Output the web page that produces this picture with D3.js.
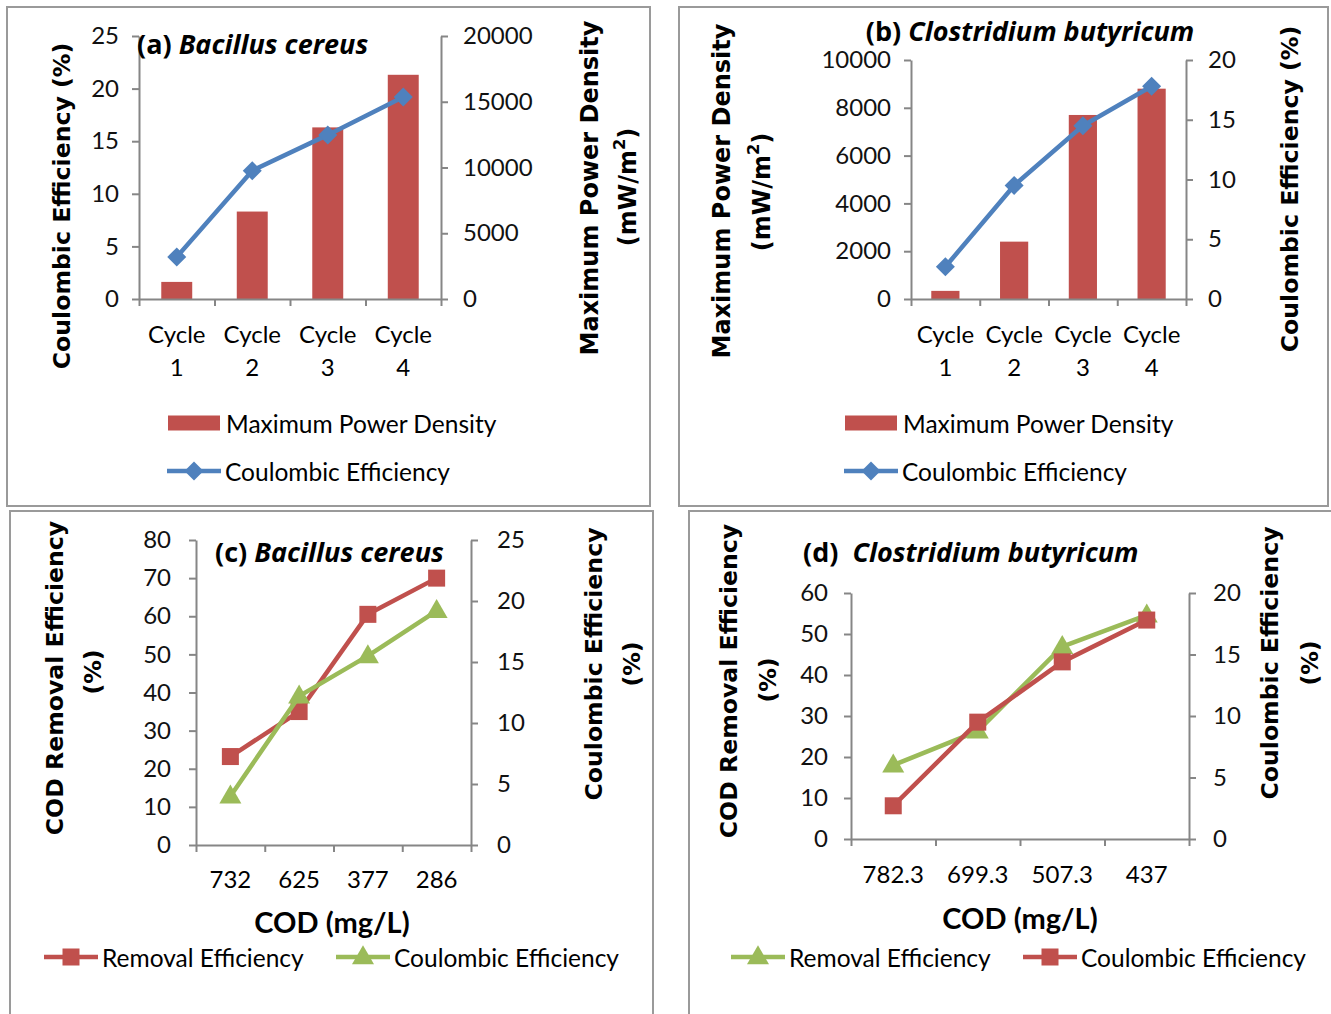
<!DOCTYPE html>
<html>
<head>
<meta charset="utf-8">
<script src="https://cdn.jsdelivr.net/npm/d3@7/dist/d3.min.js"></script>
<style>
html,body{margin:0;padding:0;background:#fff;}
svg{display:block;}
.tick text{font-family:Lato, "Open Sans", sans-serif;font-size:24px;fill:#111;}
</style>
</head>
<body>
<svg id="chart" width="1331" height="1014"></svg>
<script>
// ---------- data ----------
const cycleLabels = ["Cycle 1", "Cycle 2", "Cycle 3", "Cycle 4"];
const mpdBacillus = [1300, 6650, 13050, 17050];
const ceBacillus = [4.0, 12.2, 15.6, 19.2];
const mpdClostridium = [340, 2400, 7700, 8800];
const ceClostridium = [2.7, 9.5, 14.5, 17.8];
const codBacillus = ["732", "625", "377", "286"];
const removalBacillus = [23.2, 35.0, 60.5, 70.0];
const ceCodBacillus = [4.0, 12.2, 15.5, 19.2];
const codClostridium = ["782.3", "699.3", "507.3", "437"];
const removalClostridium = [18.0, 26.3, 46.9, 54.6];
const ceCodClostridium = [2.7, 9.5, 14.4, 17.8];
const ticksCE25 = [0, 5, 10, 15, 20, 25];
const ticksCE20 = [0, 5, 10, 15, 20];
const ticksMPD20k = [0, 5000, 10000, 15000, 20000];
const ticksMPD10k = [0, 2000, 4000, 6000, 8000, 10000];
const ticksRem80 = [0, 10, 20, 30, 40, 50, 60, 70, 80];
const ticksRem60 = [0, 10, 20, 30, 40, 50, 60];

// ---------- styles ----------
const RED = "#C0504D", BLUE = "#4F81BD", GREEN = "#9BBB59", AXIS = "#868686", BORDER = "#9a9a9a";
const TICKFONT = "Lato, 'Open Sans', sans-serif";
const HEADFONT = "'Open Sans', Lato, sans-serif";
const TITLEFONT = "'DejaVu Sans', Verdana, sans-serif";

const svg = d3.select("#chart");

// panel borders
[[7, 7, 643, 499], [679, 7, 649, 499], [10, 511, 643, 510], [689, 511, 650, 510]].forEach(b => {
  svg.append("rect").attr("x", b[0]).attr("y", b[1]).attr("width", b[2]).attr("height", b[3])
    .attr("fill", "none").attr("stroke", BORDER).attr("stroke-width", 2);
});

function styleAxis(g) {
  g.select(".domain").attr("stroke", AXIS).attr("stroke-width", 2);
  g.selectAll(".tick line").attr("stroke", AXIS).attr("stroke-width", 2);
}

function yAxis(x, scale, ticks, side, pad) {
  const ax = (side === "left" ? d3.axisLeft(scale) : d3.axisRight(scale))
    .tickValues(ticks).tickSize(7).tickSizeOuter(0).tickPadding(pad).tickFormat(d3.format("d"));
  const g = svg.append("g").attr("transform", `translate(${x},0)`).call(ax);
  styleAxis(g);
  return g;
}

function xAxisFrame(x0, x1, y, n) {
  const s = d3.scaleLinear().domain([0, n]).range([x0, x1]);
  const g = svg.append("g").attr("transform", `translate(0,${y})`)
    .call(d3.axisBottom(s).tickValues(d3.range(n + 1)).tickSize(7).tickSizeOuter(0).tickFormat(""));
  styleAxis(g);
}

function vText(x, y, str, size) {
  return svg.append("text").attr("transform", `translate(${x},${y}) rotate(-90)`)
    .attr("text-anchor", "middle").attr("dominant-baseline", "central")
    .attr("font-family", TITLEFONT).attr("font-weight", "bold").attr("font-size", size)
    .attr("fill", "#000").text(str);
}

function unitText(x, y, size) {
  const t = vText(x, y, "", size);
  t.append("tspan").text("(mW/m");
  t.append("tspan").attr("font-size", size * 0.68).attr("dy", -9).text("2");
  t.append("tspan").attr("dy", 9).text(")");
}

function title(x, y, prefix, species, anchor) {
  const t = svg.append("text").attr("x", x).attr("y", y).attr("text-anchor", anchor || "start")
    .attr("dominant-baseline", "central").style("white-space", "pre")
    .attr("font-family", HEADFONT).attr("font-weight", "bold").attr("font-size", 27).attr("fill", "#000");
  t.append("tspan").text(prefix);
  t.append("tspan").attr("font-style", "italic").text(species);
}

function plainText(x, y, str, size, opts) {
  opts = opts || {};
  return svg.append("text").attr("x", x).attr("y", y)
    .attr("text-anchor", opts.anchor || "start").attr("dominant-baseline", "central")
    .attr("font-family", opts.family || TICKFONT).attr("font-weight", opts.weight || "normal")
    .attr("font-size", size).attr("fill", "#000").text(str);
}

function diamond(x, y, r) {
  return `M${x},${y - r}L${x + r},${y}L${x},${y + r}L${x - r},${y}Z`;
}
function marker(g, kind, x, y, color) {
  if (kind === "diamond") {
    g.append("path").attr("d", diamond(x, y, 9.5)).attr("fill", color);
  } else if (kind === "square") {
    g.append("rect").attr("x", x - 8.5).attr("y", y - 8.5).attr("width", 17).attr("height", 17).attr("fill", color);
  } else {
    g.append("path").attr("d", d3.symbol(d3.symbolTriangle, 210)()).attr("transform", `translate(${x},${y + 1})`).attr("fill", color);
  }
}

function lineSeries(xs, yScale, values, color, kind) {
  const g = svg.append("g");
  const pts = values.map((v, i) => [xs(i), yScale(v)]);
  g.append("path").attr("d", d3.line()(pts)).attr("fill", "none").attr("stroke", color)
    .attr("stroke-width", 4.5).attr("stroke-linejoin", "round");
  pts.forEach(p => marker(g, kind, p[0], p[1], color));
}

function legendBar(x, y, label) {
  svg.append("rect").attr("x", x).attr("y", y - 7.5).attr("width", 52).attr("height", 15).attr("fill", RED);
  plainText(x + 58, y, label, 24.5);
}
function legendLine(x, y, color, kind, label) {
  const g = svg.append("g");
  g.append("line").attr("x1", x).attr("x2", x + 54).attr("y1", y).attr("y2", y)
    .attr("stroke", color).attr("stroke-width", 4.5);
  marker(g, kind, x + 27, y, color);
  plainText(x + 58, y, label, 24.5);
}

function cycleLabelsAt(xs, yTop, labels) {
  labels.forEach((lab, i) => {
    const parts = lab.split(" ");
    plainText(xs(i), yTop, parts[0], 24, { anchor: "middle" });
    plainText(xs(i), yTop + 33, parts[1], 24, { anchor: "middle" });
  });
}

// ---------- Panel (a) ----------
(function () {
  const x0 = 139, x1 = 441, yT = 36, yB = 299;
  const band = d3.scaleBand().domain(d3.range(cycleLabels.length)).range([x0, x1]).paddingInner(0.59).paddingOuter(0.295);
  const pt = d3.scalePoint().domain(d3.range(cycleLabels.length)).range([x0, x1]).padding(0.5);
  const yL = d3.scaleLinear().domain([0, 25]).range([yB, yT]);
  const yR = d3.scaleLinear().domain([0, 20000]).range([yB, yT]);
  svg.append("g").selectAll("rect").data(mpdBacillus).join("rect")
    .attr("x", (d, i) => band(i)).attr("width", band.bandwidth())
    .attr("y", d => yR(d)).attr("height", d => yB - yR(d)).attr("fill", RED);
  yAxis(x0, yL, ticksCE25, "left", 13);
  yAxis(x1, yR, ticksMPD20k, "right", 15);
  xAxisFrame(x0, x1, yB, 4);
  lineSeries(pt, yL, ceBacillus, BLUE, "diamond");
  cycleLabelsAt(pt, 333, cycleLabels);
  title(137, 43, "(a) ", "Bacillus cereus");
  vText(62, 206, "Coulombic Efficiency (%)", 23.6);
  vText(590, 188, "Maximum Power Density", 24);
  unitText(628, 187, 24);
  legendBar(168, 423, "Maximum Power Density");
  legendLine(167, 471, BLUE, "diamond", "Coulombic Efficiency");
})();

// ---------- Panel (b) ----------
(function () {
  const x0 = 911, x1 = 1186, yT = 60, yB = 299;
  const band = d3.scaleBand().domain(d3.range(cycleLabels.length)).range([x0, x1]).paddingInner(0.59).paddingOuter(0.295);
  const pt = d3.scalePoint().domain(d3.range(cycleLabels.length)).range([x0, x1]).padding(0.5);
  const yL = d3.scaleLinear().domain([0, 10000]).range([yB, yT]);
  const yR = d3.scaleLinear().domain([0, 20]).range([yB, yT]);
  svg.append("g").selectAll("rect").data(mpdClostridium).join("rect")
    .attr("x", (d, i) => band(i)).attr("width", band.bandwidth())
    .attr("y", d => yL(d)).attr("height", d => yB - yL(d)).attr("fill", RED);
  yAxis(x0, yL, ticksMPD10k, "left", 13);
  yAxis(x1, yR, ticksCE20, "right", 15);
  xAxisFrame(x0, x1, yB, 4);
  lineSeries(pt, yR, ceClostridium, BLUE, "diamond");
  cycleLabelsAt(pt, 333, cycleLabels);
  title(1030, 30, "(b) ", "Clostridium butyricum", "middle");
  vText(722, 191, "Maximum Power Density", 24);
  unitText(762, 192, 24);
  vText(1290, 189, "Coulombic Efficiency (%)", 23.6);
  legendBar(845, 423, "Maximum Power Density");
  legendLine(844, 471, BLUE, "diamond", "Coulombic Efficiency");
})();

// ---------- Panel (c) ----------
(function () {
  const x0 = 196, x1 = 471, yT = 540, yB = 845;
  const pt = d3.scalePoint().domain(d3.range(codBacillus.length)).range([x0, x1]).padding(0.5);
  const yL = d3.scaleLinear().domain([0, 80]).range([yB, yT]);
  const yR = d3.scaleLinear().domain([0, 25]).range([yB, yT]);
  yAxis(x0, yL, ticksRem80, "left", 18);
  yAxis(x1, yR, ticksCE25, "right", 19);
  xAxisFrame(x0, x1, yB, 4);
  lineSeries(pt, yL, removalBacillus, RED, "square");
  lineSeries(pt, yR, ceCodBacillus, GREEN, "triangle");
  codBacillus.forEach((c, i) => plainText(pt(i), 878, c, 24, { anchor: "middle" }));
  plainText(332, 921, "COD (mg/L)", 29, { anchor: "middle", weight: "bold" });
  title(215, 551, "(c) ", "Bacillus cereus");
  vText(55, 678, "COD Removal Efficiency", 23.6);
  vText(93, 672, "(%)", 23.6);
  vText(594, 664, "Coulombic Efficiency", 23.6);
  vText(632, 664, "(%)", 23.6);
  legendLine(44, 957, RED, "square", "Removal Efficiency");
  legendLine(336, 957, GREEN, "triangle", "Coulombic Efficiency");
})();

// ---------- Panel (d) ----------
(function () {
  const x0 = 851, x1 = 1189, yT = 593, yB = 839;
  const pt = d3.scalePoint().domain(d3.range(codClostridium.length)).range([x0, x1]).padding(0.5);
  const yL = d3.scaleLinear().domain([0, 60]).range([yB, yT]);
  const yR = d3.scaleLinear().domain([0, 20]).range([yB, yT]);
  yAxis(x0, yL, ticksRem60, "left", 16);
  yAxis(x1, yR, ticksCE20, "right", 17);
  xAxisFrame(x0, x1, yB, 4);
  lineSeries(pt, yL, removalClostridium, GREEN, "triangle");
  lineSeries(pt, yR, ceCodClostridium, RED, "square");
  codClostridium.forEach((c, i) => plainText(pt(i), 873, c, 24, { anchor: "middle" }));
  plainText(1020, 917, "COD (mg/L)", 29, { anchor: "middle", weight: "bold" });
  title(803, 551, "(d)  ", "Clostridium butyricum");
  vText(729, 681, "COD Removal Efficiency", 23.6);
  vText(768, 680, "(%)", 23.6);
  vText(1270, 663, "Coulombic Efficiency", 23.6);
  vText(1310, 663, "(%)", 23.6);
  legendLine(731, 957, GREEN, "triangle", "Removal Efficiency");
  legendLine(1023, 957, RED, "square", "Coulombic Efficiency");
})();
</script>
</body>
</html>
